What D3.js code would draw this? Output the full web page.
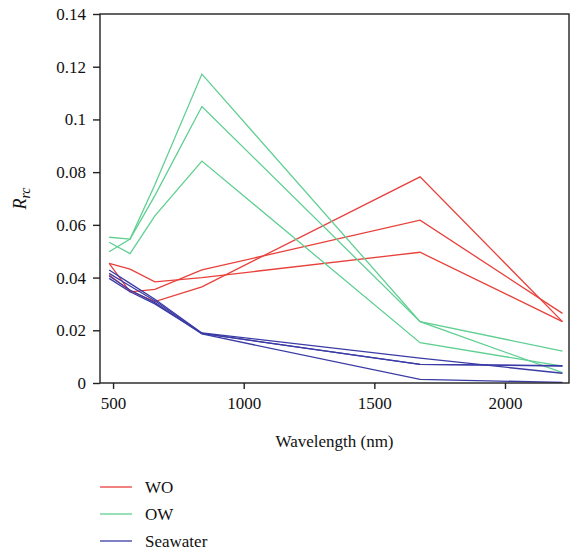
<!DOCTYPE html>
<html>
<head>
<meta charset="utf-8">
<script src="https://cdn.jsdelivr.net/npm/d3@7"></script>
<style>
  body { margin: 0; background: #fff; }
  svg { display: block; }
</style>
</head>
<body>
<div id="chart"></div>
<script>
(function() {

    const wavelengths = [485, 565, 660, 840, 1675, 2220];

    const woSeries = [
        [0.0454, 0.0432, 0.0384, 0.0400, 0.0496, 0.0233],
        [0.0454, 0.0346, 0.0355, 0.0429, 0.0618, 0.0264],
        [0.0410, 0.0350, 0.0309, 0.0365, 0.0782, 0.0233]
    ];

    const owSeries = [
        [0.0553, 0.0546, 0.0752, 0.1172, 0.0233, 0.0039],
        [0.0498, 0.0546, 0.0711, 0.1049, 0.0233, 0.0121],
        [0.0534, 0.0491, 0.0634, 0.0842, 0.0153, 0.0064]
    ];

    const seaSeries = [
        [0.0429, 0.0378, 0.0318, 0.0190, 0.0094, 0.0037],
        [0.0416, 0.0368, 0.0312, 0.0188, 0.0071, 0.0066],
        [0.0406, 0.0353, 0.0305, 0.0186, 0.0014, 0.0002],
        [0.0397, 0.0346, 0.0300, 0.0188, 0.0071, 0.0064]
    ];

    const xTicks = [500, 1000, 1500, 2000];
    const yTicks = [0, 0.02, 0.04, 0.06, 0.08, 0.1, 0.12, 0.14];

    const groups = [
        {name: "WO", color: "#e8403a", series: woSeries},
        {name: "OW", color: "#5fcf92", series: owSeries},
        {name: "Seawater", color: "#3b3ba6", series: seaSeries}
    ];

    const font = "'Liberation Serif', 'Times New Roman', Tinos, 'DejaVu Serif', serif";

    const width = 571;
    const height = 554;
    const margin = {top: 14, right: 2, bottom: 171, left: 100};

    const svg = d3.select("#chart").append("svg")
        .attr("width", width)
        .attr("height", height);

    const x = d3.scaleLinear()
        .domain([450, 2245])
        .range([margin.left, width - margin.right]);

    const y = d3.scaleLinear()
        .domain([0, 0.14])
        .range([height - margin.bottom, margin.top]);

    const line = d3.line()
        .x((d, i) => x(wavelengths[i]))
        .y(d => y(d));

    // data lines
    groups.forEach(g => {
        svg.append("g")
            .selectAll("path")
            .data(g.series)
            .join("path")
            .attr("d", line)
            .attr("fill", "none")
            .attr("stroke", g.color)
            .attr("stroke-width", 1.3);
    });

    // frame
    svg.append("rect")
        .attr("x", margin.left)
        .attr("y", margin.top)
        .attr("width", width - margin.right - margin.left)
        .attr("height", height - margin.bottom - margin.top)
        .attr("fill", "none")
        .attr("stroke", "#222")
        .attr("stroke-width", 1.4);

    const xAxis = g => g
        .attr("transform", `translate(0,${height - margin.bottom})`)
        .call(d3.axisBottom(x).tickValues(xTicks).tickFormat(d3.format("d")).tickSize(6).tickPadding(8).tickSizeOuter(0))
        .call(g => g.select(".domain").remove())
        .call(g => g.selectAll("line").attr("stroke", "#222").attr("stroke-width", 1.4))
        .call(g => g.selectAll("text").style("font-size", "17px").style("font-family", font).attr("fill", "#111"));

    const yAxis = g => g
        .attr("transform", `translate(${margin.left},0)`)
        .call(d3.axisLeft(y).tickValues(yTicks).tickFormat(d => d === 0 ? "0" : d3.format("~g")(d)).tickSize(7).tickPadding(7).tickSizeOuter(0))
        .call(g => g.select(".domain").remove())
        .call(g => g.selectAll("line").attr("stroke", "#222").attr("stroke-width", 1.4))
        .call(g => g.selectAll("text").style("font-size", "17px").style("font-family", font).attr("fill", "#111"));

    svg.append("g").call(xAxis);
    svg.append("g").call(yAxis);

    // axis titles
    svg.append("text")
        .attr("x", (margin.left + width - margin.right) / 2)
        .attr("y", 447)
        .attr("text-anchor", "middle")
        .style("font-family", font)
        .style("font-size", "17px")
        .attr("fill", "#111")
        .text("Wavelength (nm)");

    const yTitle = svg.append("text")
        .attr("transform", `translate(26,${(margin.top + height - margin.bottom) / 2}) rotate(-90)`)
        .attr("text-anchor", "middle")
        .style("font-family", font)
        .style("font-size", "18px")
        .style("font-style", "italic")
        .attr("fill", "#111");
    yTitle.append("tspan").text("R");
    yTitle.append("tspan").style("font-size", "14px").attr("dy", 4).text("rc");

    // legend
    const legend = svg.append("g")
        .selectAll("g")
        .data(groups)
        .join("g")
        .attr("transform", (d, i) => `translate(100,${487 + i * 27})`);

    legend.append("line")
        .attr("x1", 0)
        .attr("x2", 32)
        .attr("stroke", d => d.color)
        .attr("stroke-width", 1.3);

    legend.append("text")
        .attr("x", 45)
        .attr("dy", "0.35em")
        .style("font-family", font)
        .style("font-size", "17px")
        .attr("fill", "#111")
        .text(d => d.name);

})();
</script>
</body>
</html>
